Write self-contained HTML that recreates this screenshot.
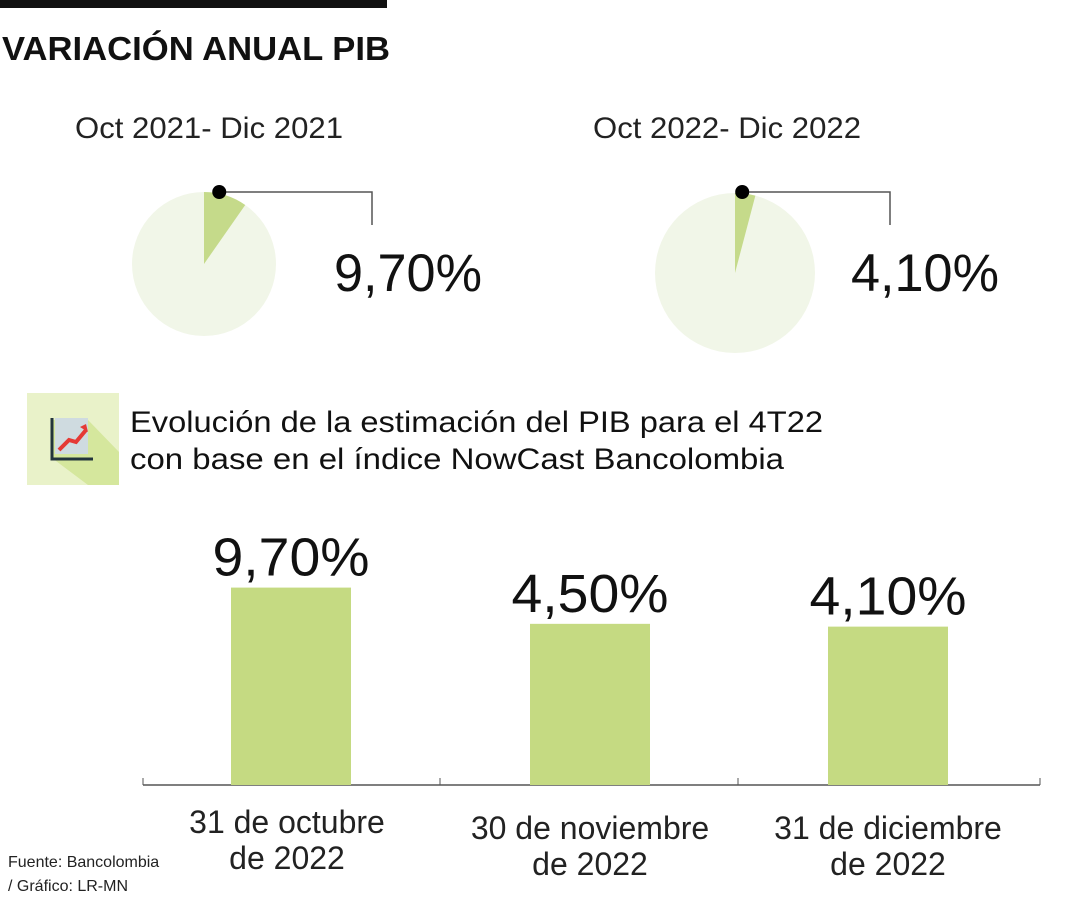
<!DOCTYPE html>
<html><head><meta charset="utf-8"><style>
body{margin:0;background:#fff;font-family:"Liberation Sans",sans-serif;}
svg text{font-family:"Liberation Sans",sans-serif;}
</style></head><body>
<svg width="1080" height="900" viewBox="0 0 1080 900">
<rect x="0" y="0" width="387" height="8" fill="#111"/>
<text x="2" y="60" font-size="33" font-weight="bold" fill="#111" textLength="388" lengthAdjust="spacingAndGlyphs">VARIACIÓN ANUAL PIB</text>
<g id="pies"></g>
<g>
<rect x="27" y="393" width="92" height="92" fill="#e9f2c9"/>
<polygon points="52,420 88,420 119,452 119,485 88,485 52,458" fill="#d5e79d"/>
<rect x="55" y="418" width="33" height="36" fill="#cfdbe0"/>
<polyline points="52,418 52,459 93,459" fill="none" stroke="#22343c" stroke-width="3"/>
<polyline points="59,450 69,440 76,442 86,430" fill="none" stroke="#e53935" stroke-width="4"/>
<polygon points="80,427 86,424 88,432" fill="#e53935"/>
</g>
<text x="130" y="432" font-size="30" fill="#111" textLength="693" lengthAdjust="spacingAndGlyphs">Evolución de la estimación del PIB para el 4T22</text>
<text x="130" y="469" font-size="30" fill="#111" textLength="654" lengthAdjust="spacingAndGlyphs">con base en el índice NowCast Bancolombia</text>
<line x1="143" y1="785" x2="1040" y2="785" stroke="#555" stroke-width="1.5"/>
<line x1="143" y1="778" x2="143" y2="785" stroke="#555"/>
<line x1="440" y1="778" x2="440" y2="785" stroke="#555"/>
<line x1="738" y1="778" x2="738" y2="785" stroke="#555"/>
<line x1="1040" y1="778" x2="1040" y2="785" stroke="#555"/>
<g id="bars"></g>
<text x="8" y="867" font-size="16" fill="#222">Fuente: Bancolombia</text>
<text x="8" y="891" font-size="16" fill="#222">/ Gráfico: LR-MN</text>
</svg>
<script>
const pieTitles=["Oct 2021- Dic 2021","Oct 2022- Dic 2022"];
const pieValues=[9.7,4.1];
const pieLabels=["9,70%","4,10%"];
const categories=[["31 de octubre","de 2022"],["30 de noviembre","de 2022"],["31 de diciembre","de 2022"]];
const barValues=[9.7,4.5,4.1];
const barLabels=["9,70%","4,50%","4,10%"];
const NS="http://www.w3.org/2000/svg";
function mk(tag,attrs,parent){const e=document.createElementNS(NS,tag);for(const k in attrs)e.setAttribute(k,attrs[k]);parent.appendChild(e);return e;}
const pies=document.getElementById('pies');
const pieGeom=[{cx:204,cy:264,r:72,tx:75,lx:372,vx:334},{cx:735,cy:273,r:80,tx:593,lx:890,vx:851}];
pieValues.forEach((v,i)=>{
 const g=pieGeom[i];
 const t=mk('text',{x:g.tx,y:138,'font-size':30,fill:'#222',textLength:268,lengthAdjust:'spacingAndGlyphs'},pies);t.textContent=pieTitles[i];
 
 
 const c=mk('circle',{cx:g.cx,cy:g.cy,r:g.r,fill:'#f1f6e8'},pies);
 
 
 const a=v/100*2*Math.PI;
 const x=g.cx+g.r*Math.sin(a),y=g.cy-g.r*Math.cos(a);
 const p=mk('path',{d:`M${g.cx},${g.cy} L${g.cx},${g.cy-g.r} A${g.r},${g.r} 0 0 1 ${x},${y} Z`,fill:'#c5da8a'},pies);
 
 
 const ha=a/2*0.7;const dx=g.cx+g.r*Math.sin(ha);
 const l=mk('polyline',{points:`${dx},192 ${g.lx},192 ${g.lx},225`,fill:'none',stroke:'#555','stroke-width':1.5},pies);
 
 
 const d=mk('circle',{cx:dx,cy:192,r:7,fill:'#000'},pies);
 
 
 const vt=mk('text',{x:g.vx,y:291,'font-size':53,fill:'#111',textLength:148,lengthAdjust:'spacingAndGlyphs'},pies);vt.textContent=pieLabels[i];
 
 
});
const bars=document.getElementById('bars');
const base=785;
function h(v){return 129.8+6.97*v;}
const centers=[291,590,888];
barValues.forEach((v,i)=>{
 const cx=centers[i],hh=h(v);
 const r=mk('rect',{x:cx-60,y:base-hh,width:120,height:hh,fill:'#c5da82'},bars);
 
 
 const t=mk('text',{x:cx,y:base-hh-12,'font-size':54,fill:'#111','text-anchor':'middle',textLength:157,lengthAdjust:'spacingAndGlyphs'},bars);t.textContent=barLabels[i];
 
 
 categories[i].forEach((s,j)=>{
  const c=mk('text',{x:cx+(i==0?-4:0),y:[833,839,839][i]+j*36,'font-size':32,fill:'#222','text-anchor':'middle'},bars);c.textContent=s;
  
  
 });
});
</script>
</body></html>
